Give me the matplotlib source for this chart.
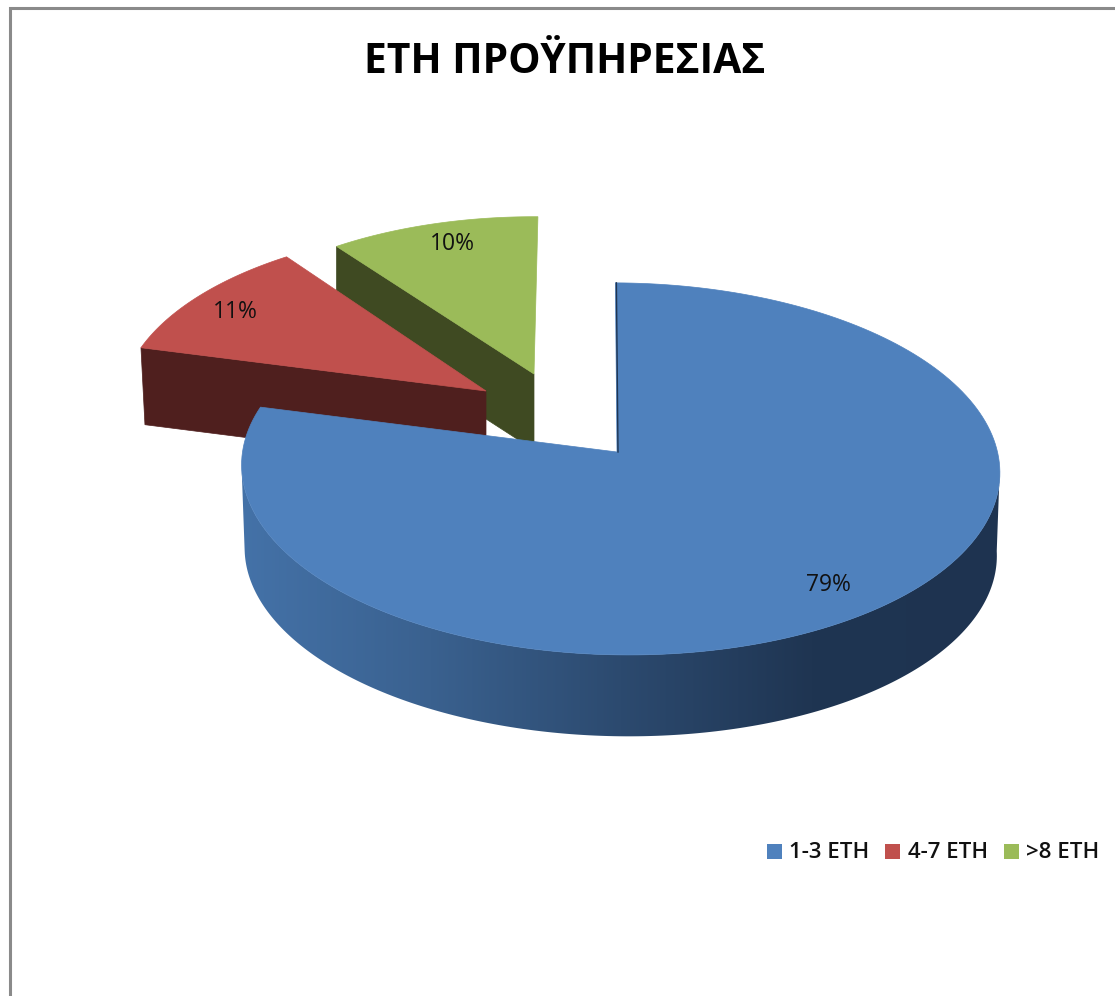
import numpy as np
import matplotlib
matplotlib.use('Agg')
import matplotlib.pyplot as plt
from matplotlib.colors import LinearSegmentedColormap
from matplotlib.patches import Rectangle, Polygon

title = 'ΕΤΗ ΠΡΟΫΠΗΡΕΣΙΑΣ'
categories = ['1-3 ΕΤΗ', '4-7 ΕΤΗ', '>8 ΕΤΗ']
shares = [79, 11, 10]

top_colors = ['#4f81bd', '#c0504d', '#9bbb59']
wall_colors = [None, '#4f1f1e', '#3f4a22']

# pie placed in pixels of the picture, y goes down
RX, RY = 377.5, 184.5
PERSP = 0.0909

plt.rcParams['font.family'] = ['Open Sans', 'DejaVu Sans']

fig = plt.figure(figsize=(11.15, 9.96), dpi=100)
ax = fig.add_axes([0, 0, 1, 1])
ax.axis('off')

# chart frame
ax.plot([10, 10, 1116], [997, 8, 8], color='#8a8a8a', lw=2.2, solid_joinstyle='miter')


def arc(t1, t2, cx, cy, scale=1.0, skew=0.0):
    t = np.radians(np.linspace(t1, t2, 200))
    u, v = np.sin(t), -np.cos(t)
    d = 1 - PERSP * v
    return cx + (scale * RX * u + skew * v) / d, cy + scale * RY * v / d


# slice angles come from the shares
edges = np.cumsum([0] + shares) * 3.6

# green
x, y = arc(edges[2] - 1.1, edges[3] + 0.7, 534, 374, 0.93)
h = 76
ax.fill(np.r_[x[0], x[0], 534, 534], np.r_[y[0], y[0] + h, 374 + h, 374], color=wall_colors[2], lw=0.5, zorder=2)
ax.fill(np.r_[534, x], np.r_[374, y], color=top_colors[2], lw=0.5, zorder=3)

# red
x, y = arc(edges[1], edges[2], 486, 391, 0.965)
h = 77
ax.fill(np.r_[x[0], x[0] + 4, 486, 486], np.r_[y[0], y[0] + h, 391 + h, 391], color=wall_colors[1], lw=0.5, zorder=4)
ax.fill(np.r_[486, x], np.r_[391, y], color=top_colors[1], lw=0.5, zorder=5)

# blue wall, only the front part of the rim shows, shaded from left to right
xw, yw = arc(95, 265, 620, 452, skew=8)
xb, yb = arc(95, 265, 620, 452 + 83, 0.992, skew=8)
shade = LinearSegmentedColormap.from_list('wall', ['#4472a8', '#3a618f', '#2c4a6f', '#1f3552', '#1e3350'])
grad = ax.imshow(np.linspace(0, 1, 256)[None, :], cmap=shade, extent=(240, 1002, 800, 300), aspect='auto', zorder=6)
wall = Polygon(np.c_[np.r_[xw, xb[::-1]], np.r_[yw, yb[::-1]]], transform=ax.transData)
grad.set_clip_path(wall)

# blue top
x, y = arc(edges[0] + 0.45, edges[1], 620, 452, skew=8)
ax.fill(np.r_[617, x], np.r_[452, y], color=top_colors[0], lw=0.5, zorder=7)
ax.plot([x[0] + 1, 618], [y[0], 452], color='#1f3552', lw=1.0, zorder=8)

# data labels
label_pos = [(828, 585), (235, 312), (452, 244)]
for s, (lx, ly) in zip(shares, label_pos):
    ax.text(lx, ly, f'{s}%', ha='center', va='center', fontsize=16.5, fontweight='medium', color='#111111', zorder=9)

ax.text(565, 62, title, ha='center', va='center', fontsize=29.3, fontweight='bold', color='black', zorder=9)

# legend
box_x = [767, 885, 1004]
text_x = [789, 908, 1026]
for c, col, bx, tx in zip(categories, top_colors, box_x, text_x):
    ax.add_patch(Rectangle((bx, 844), 15, 15, facecolor=col, edgecolor='none', zorder=9))
    ax.text(tx, 852, c, ha='left', va='center', fontsize=16, fontweight='semibold', color='#111111', zorder=9)

ax.set_xlim(0, 1115)
ax.set_ylim(996, 0)

fig.savefig('out.png', dpi=100)
